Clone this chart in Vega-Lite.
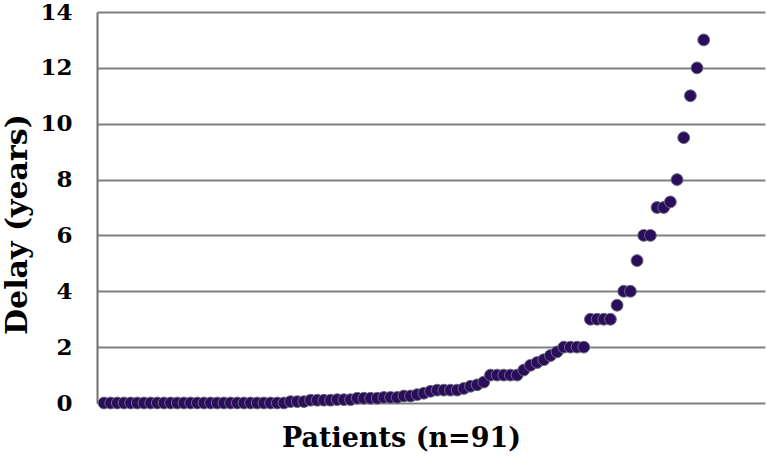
{
  "$schema": "https://vega.github.io/schema/vega-lite/v6.json",
  "width": 668,
  "height": 391,
  "autosize": "none",
  "padding": {"left": 97, "top": 12, "right": 2, "bottom": 59},
  "background": "#ffffff",
  "config": {"view": {"stroke": null}, "font": "DejaVu Serif"},
  "data": {"values": [
    {"p":1,"d":0},{"p":2,"d":0},{"p":3,"d":0},{"p":4,"d":0},{"p":5,"d":0},{"p":6,"d":0},{"p":7,"d":0},{"p":8,"d":0},{"p":9,"d":0},{"p":10,"d":0},
    {"p":11,"d":0},{"p":12,"d":0},{"p":13,"d":0},{"p":14,"d":0},{"p":15,"d":0},{"p":16,"d":0},{"p":17,"d":0},{"p":18,"d":0},{"p":19,"d":0},{"p":20,"d":0},
    {"p":21,"d":0},{"p":22,"d":0},{"p":23,"d":0},{"p":24,"d":0},{"p":25,"d":0},{"p":26,"d":0},{"p":27,"d":0},{"p":28,"d":0},
    {"p":29,"d":0.05},{"p":30,"d":0.05},{"p":31,"d":0.05},
    {"p":32,"d":0.1},{"p":33,"d":0.1},{"p":34,"d":0.1},{"p":35,"d":0.1},
    {"p":36,"d":0.12},{"p":37,"d":0.12},{"p":38,"d":0.12},
    {"p":39,"d":0.17},{"p":40,"d":0.17},{"p":41,"d":0.17},{"p":42,"d":0.17},
    {"p":43,"d":0.2},{"p":44,"d":0.2},{"p":45,"d":0.2},
    {"p":46,"d":0.25},{"p":47,"d":0.25},
    {"p":48,"d":0.3},{"p":49,"d":0.35},{"p":50,"d":0.42},
    {"p":51,"d":0.46},{"p":52,"d":0.46},{"p":53,"d":0.46},{"p":54,"d":0.46},
    {"p":55,"d":0.52},{"p":56,"d":0.6},{"p":57,"d":0.65},{"p":58,"d":0.75},
    {"p":59,"d":1.0},{"p":60,"d":1.0},{"p":61,"d":1.0},{"p":62,"d":1.0},{"p":63,"d":1.0},
    {"p":64,"d":1.18},{"p":65,"d":1.35},{"p":66,"d":1.45},{"p":67,"d":1.55},{"p":68,"d":1.7},{"p":69,"d":1.83},
    {"p":70,"d":2},{"p":71,"d":2},{"p":72,"d":2},{"p":73,"d":2},
    {"p":74,"d":3},{"p":75,"d":3},{"p":76,"d":3},{"p":77,"d":3},
    {"p":78,"d":3.5},{"p":79,"d":4},{"p":80,"d":4},{"p":81,"d":5.1},
    {"p":82,"d":6},{"p":83,"d":6},{"p":84,"d":7},{"p":85,"d":7},{"p":86,"d":7.2},
    {"p":87,"d":8},{"p":88,"d":9.5},{"p":89,"d":11},{"p":90,"d":12},{"p":91,"d":13}
  ]},
  "mark": {"type": "point", "filled": true, "shape": "circle", "size": 140, "color": "#2a0d5c", "stroke": "#6a6a7a", "strokeWidth": 1, "opacity": 1},
  "encoding": {
    "x": {
      "field": "p", "type": "quantitative",
      "scale": {"domain": [-0.05, 100.2], "nice": false, "zero": false},
      "axis": {
        "title": "Patients (n=91)", "labels": false, "ticks": false, "domain": false, "grid": false,
        "titleFont": "DejaVu Serif", "titleFontSize": 27, "titleFontWeight": "bold", "titleColor": "#000000",
        "titleX": 304, "titleY": 43, "titleBaseline": "alphabetic", "titleAlign": "center"
      }
    },
    "y": {
      "field": "d", "type": "quantitative",
      "scale": {"domain": [0, 14], "nice": false},
      "axis": {
        "title": "Delay (years)", "values": [0, 2, 4, 6, 8, 10, 12, 14],
        "ticks": false, "labelPadding": 25,
        "labelFont": "DejaVu Serif", "labelFontSize": 23, "labelFontWeight": "bold", "labelColor": "#000000",
        "labelBaseline": "middle", "labelFlush": false,
        "grid": true, "gridColor": "#808080", "gridWidth": 2,
        "domain": true, "domainColor": "#707070", "domainWidth": 2,
        "titleFont": "DejaVu Serif", "titleFontSize": 30, "titleFontWeight": "bold", "titleColor": "#000000",
        "titleAngle": -90, "titleX": -80, "titleY": 212, "titleBaseline": "middle", "titleAlign": "center"
      }
    }
  }
}
